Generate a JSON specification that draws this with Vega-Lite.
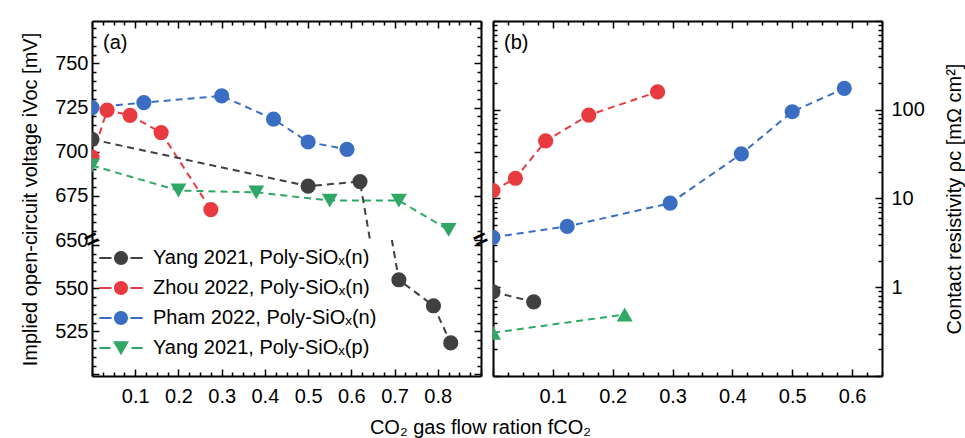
{
  "$schema": "https://vega.github.io/schema/vega-lite/v6.json",
  "padding": {"left": 20, "top": 20, "right": 2, "bottom": 2},
  "config": {
    "font": "Liberation Sans",
    "view": {"stroke": null},
    "axis": {
      "grid": false,
      "domain": true,
      "ticks": true,
      "domainColor": "#000000",
      "domainWidth": 2,
      "tickColor": "#000000",
      "tickWidth": 1.5,
      "labelFont": "Liberation Sans",
      "labelFontSize": 20,
      "labelColor": "#000000",
      "titleFont": "Liberation Sans",
      "titleFontSize": 20,
      "titleFontWeight": "normal",
      "titleColor": "#000000",
      "labelPadding": 11
    },
    "title": {"font": "Liberation Sans", "fontSize": 20, "fontWeight": "normal", "color": "#000000"}
  },
  "title": {"text": "CO₂ gas flow ration fCO₂", "orient": "bottom", "anchor": "middle", "offset": 12, "dx": -12},
  "datasets": {
    "voc": [
      {"series": "Pham 2022, Poly-SiOₓ(n)", "f": 0.0, "voc": 725.0},
      {"series": "Pham 2022, Poly-SiOₓ(n)", "f": 0.12, "voc": 727.8},
      {"series": "Pham 2022, Poly-SiOₓ(n)", "f": 0.3, "voc": 731.6},
      {"series": "Pham 2022, Poly-SiOₓ(n)", "f": 0.42, "voc": 718.4},
      {"series": "Pham 2022, Poly-SiOₓ(n)", "f": 0.5, "voc": 705.5},
      {"series": "Pham 2022, Poly-SiOₓ(n)", "f": 0.59, "voc": 701.3},
      {"series": "Zhou 2022, Poly-SiOₓ(n)", "f": 0.0, "voc": 697.0},
      {"series": "Zhou 2022, Poly-SiOₓ(n)", "f": 0.035, "voc": 723.5},
      {"series": "Zhou 2022, Poly-SiOₓ(n)", "f": 0.088, "voc": 720.6},
      {"series": "Zhou 2022, Poly-SiOₓ(n)", "f": 0.16, "voc": 710.8},
      {"series": "Zhou 2022, Poly-SiOₓ(n)", "f": 0.275, "voc": 667.2},
      {"series": "Yang 2021, Poly-SiOₓ(p)", "f": 0.0, "voc": 692.2},
      {"series": "Yang 2021, Poly-SiOₓ(p)", "f": 0.2, "voc": 678.0},
      {"series": "Yang 2021, Poly-SiOₓ(p)", "f": 0.38, "voc": 677.0},
      {"series": "Yang 2021, Poly-SiOₓ(p)", "f": 0.55, "voc": 672.3},
      {"series": "Yang 2021, Poly-SiOₓ(p)", "f": 0.71, "voc": 672.3},
      {"series": "Yang 2021, Poly-SiOₓ(p)", "f": 0.825, "voc": 655.7},
      {"series": "Yang 2021, Poly-SiOₓ(n)", "f": 0.0, "voc": 707.0},
      {"series": "Yang 2021, Poly-SiOₓ(n)", "f": 0.5, "voc": 680.5},
      {"series": "Yang 2021, Poly-SiOₓ(n)", "f": 0.62, "voc": 683.1},
      {"series": "Yang 2021, Poly-SiOₓ(n)", "f": 0.71, "voc": 554.9},
      {"series": "Yang 2021, Poly-SiOₓ(n)", "f": 0.79, "voc": 539.8},
      {"series": "Yang 2021, Poly-SiOₓ(n)", "f": 0.83, "voc": 518.2}
    ],
    "rho": [
      {"series": "Pham 2022, Poly-SiOₓ(n)", "f": 0.0, "rho": 3.65},
      {"series": "Pham 2022, Poly-SiOₓ(n)", "f": 0.124, "rho": 4.85},
      {"series": "Pham 2022, Poly-SiOₓ(n)", "f": 0.296, "rho": 8.85},
      {"series": "Pham 2022, Poly-SiOₓ(n)", "f": 0.415, "rho": 31.8},
      {"series": "Pham 2022, Poly-SiOₓ(n)", "f": 0.5, "rho": 95.0},
      {"series": "Pham 2022, Poly-SiOₓ(n)", "f": 0.587, "rho": 174.0},
      {"series": "Zhou 2022, Poly-SiOₓ(n)", "f": 0.0, "rho": 12.3},
      {"series": "Zhou 2022, Poly-SiOₓ(n)", "f": 0.0375, "rho": 16.9},
      {"series": "Zhou 2022, Poly-SiOₓ(n)", "f": 0.088, "rho": 44.5},
      {"series": "Zhou 2022, Poly-SiOₓ(n)", "f": 0.16, "rho": 87.0},
      {"series": "Zhou 2022, Poly-SiOₓ(n)", "f": 0.275, "rho": 159.0},
      {"series": "Yang 2021, Poly-SiOₓ(p)", "f": 0.0, "rho": 0.307},
      {"series": "Yang 2021, Poly-SiOₓ(p)", "f": 0.22, "rho": 0.493},
      {"series": "Yang 2021, Poly-SiOₓ(n)", "f": 0.0, "rho": 0.887},
      {"series": "Yang 2021, Poly-SiOₓ(n)", "f": 0.068, "rho": 0.684}
    ],
    "breaks": [
      {"f": 0.0},
      {"f": 0.9}
    ]
  },
  "resolve": {"scale": {"x": "independent", "y": "independent"}, "legend": {"color": "independent"}},
  "spacing": -1,
  "hconcat": [
    {
      "bounds": "flush",
      "spacing": 0,
      "resolve": {"scale": {"x": "independent", "y": "independent"}, "legend": {"color": "independent"}},
      "vconcat": [
        {
          "width": 389,
          "height": 219,
          "title": {"text": "(a)", "anchor": "start", "frame": "group", "offset": -33, "dx": 11},
          "data": {"name": "voc"},
          "resolve": {"axis": {"x": "independent", "y": "independent"}},
          "layer": [
            {
              "mark": {"type": "line", "strokeWidth": 2, "strokeDash": [7, 5], "clip": true},
              "encoding": {
                "x": {"field": "f", "type": "quantitative", "scale": {"domain": [0, 0.9], "nice": false, "zero": false},
                  "axis": {"orient": "top", "title": null, "labels": false,
                    "values": [0,0.025,0.05,0.075,0.1,0.125,0.15,0.175,0.2,0.225,0.25,0.275,0.3,0.325,0.35,0.375,0.4,0.425,0.45,0.475,0.5,0.525,0.55,0.575,0.6,0.625,0.65,0.675,0.7,0.725,0.75,0.775,0.8,0.825,0.85,0.875,0.9],
                    "tickSize": {"condition": {"test": "abs(datum.value*10 - round(datum.value*10)) < 1e-6", "value": -7}, "value": -4}}},
                "y": {"field": "voc", "type": "quantitative", "scale": {"domain": [650, 774], "nice": false, "zero": false},
                  "axis": {"orient": "left", "title": "Implied open-circuit voltage iVoc [mV]", "titleY": 178, "titlePadding": 14,
                    "values": [650,655,660,665,670,675,680,685,690,695,700,705,710,715,720,725,730,735,740,745,750,755,760,765,770],
                    "labelExpr": "datum.value % 25 === 0 ? datum.label : ''",
                    "tickSize": {"condition": {"test": "datum.value % 25 === 0", "value": -7}, "value": -4}}},
                "color": {"field": "series", "type": "nominal",
                  "scale": {"domain": ["Yang 2021, Poly-SiOₓ(n)", "Zhou 2022, Poly-SiOₓ(n)", "Pham 2022, Poly-SiOₓ(n)", "Yang 2021, Poly-SiOₓ(p)"], "range": ["#404040", "#e83a3f", "#3a6ec3", "#2fa866"]},
                  "legend": null}
              }
            },
            {
              "mark": {"type": "point", "filled": true, "opacity": 1, "clip": true},
              "encoding": {
                "x": {"field": "f", "type": "quantitative", "axis": null},
                "y": {"field": "voc", "type": "quantitative",
                  "axis": {"orient": "right", "title": null, "labels": false,
                    "values": [650,655,660,665,670,675,680,685,690,695,700,705,710,715,720,725,730,735,740,745,750,755,760,765,770],
                    "tickSize": {"condition": {"test": "datum.value % 25 === 0", "value": -7}, "value": -4}}},
                "color": {"field": "series", "type": "nominal", "legend": null},
                "shape": {"condition": {"test": "indexof(datum.series, '(p)') >= 0", "value": "triangle-down"}, "value": "circle"},
                "size": {"condition": {"test": "indexof(datum.series, '(p)') >= 0", "value": 256}, "value": 230}
              }
            }
          ]
        },
        {
          "width": 389,
          "height": 136,
          "data": {"name": "voc"},
          "resolve": {"axis": {"x": "independent", "y": "independent"}, "legend": {"color": "independent"}},
          "layer": [
            {
              "mark": {"type": "line", "strokeWidth": 2, "strokeDash": [7, 5], "clip": true},
              "encoding": {
                "x": {"field": "f", "type": "quantitative", "scale": {"domain": [0, 0.9], "nice": false, "zero": false},
                  "axis": {"orient": "bottom", "title": null, "format": ".1f", "labelPadding": 17,
                    "values": [0,0.025,0.05,0.075,0.1,0.125,0.15,0.175,0.2,0.225,0.25,0.275,0.3,0.325,0.35,0.375,0.4,0.425,0.45,0.475,0.5,0.525,0.55,0.575,0.6,0.625,0.65,0.675,0.7,0.725,0.75,0.775,0.8,0.825,0.85,0.875,0.9],
                    "labelExpr": "abs(datum.value*10 - round(datum.value*10)) < 1e-6 && datum.value > 0.05 && datum.value < 0.85 ? datum.label : ''",
                    "tickSize": {"condition": {"test": "abs(datum.value*10 - round(datum.value*10)) < 1e-6", "value": -7}, "value": -4}}},
                "y": {"field": "voc", "type": "quantitative", "scale": {"domain": [499, 578], "nice": false, "zero": false},
                  "axis": {"orient": "left", "title": null,
                    "values": [500,505,510,515,520,525,530,535,540,545,550,555,560,565,570,575],
                    "labelExpr": "datum.value === 525 || datum.value === 550 ? datum.label : ''",
                    "tickSize": {"condition": {"test": "datum.value % 25 === 0", "value": -7}, "value": -4}}},
                "color": {"field": "series", "type": "nominal",
                  "scale": {"domain": ["Yang 2021, Poly-SiOₓ(n)", "Zhou 2022, Poly-SiOₓ(n)", "Pham 2022, Poly-SiOₓ(n)", "Yang 2021, Poly-SiOₓ(p)"], "range": ["#404040", "#e83a3f", "#3a6ec3", "#2fa866"]},
                  "legend": null}
              }
            },
            {
              "mark": {"type": "point", "filled": true, "opacity": 1, "clip": true},
              "encoding": {
                "x": {"field": "f", "type": "quantitative", "axis": null},
                "y": {"field": "voc", "type": "quantitative",
                  "axis": {"orient": "right", "title": null, "labels": false,
                    "values": [500,505,510,515,520,525,530,535,540,545,550,555,560,565,570,575],
                    "tickSize": {"condition": {"test": "datum.value % 25 === 0", "value": -7}, "value": -4}}},
                "color": {"field": "series", "type": "nominal", "title": null,
                  "legend": {
                    "orient": "none", "legendX": 19, "legendY": 8, "padding": 0,
                    "symbolSize": 196, "symbolOpacity": 1, "symbolStrokeWidth": 0,
                    "labelFontSize": 20, "labelFont": "Liberation Sans", "labelColor": "#000000", "labelOffset": 22, "labelLimit": 400,
                    "rowPadding": 10,
                    "encode": {"symbols": {"update": {
                      "shape": {"signal": "indexof(datum.value, '(p)') >= 0 ? 'M-3.1,-0.15L-1.5,-0.15L-1.5,0.15L-3.1,0.15Z M1.5,-0.15L3.1,-0.15L3.1,0.15L1.5,0.15Z M-1.15,-0.95L1.15,-0.95L0,1.05Z' : 'M-3.1,-0.15L-1.35,-0.15L-1.35,0.15L-3.1,0.15Z M1.35,-0.15L3.1,-0.15L3.1,0.15L1.35,0.15Z M-1,0A1,1 0 1,0 1,0A1,1 0 1,0 -1,0Z'"},
                      "fill": {"scale": "color", "field": "value"},
                      "opacity": {"value": 1}
                    }}}
                  }},
                "shape": {"condition": {"test": "indexof(datum.series, '(p)') >= 0", "value": "triangle-down"}, "value": "circle"},
                "size": {"condition": {"test": "indexof(datum.series, '(p)') >= 0", "value": 256}, "value": 230}
              }
            },
            {
              "data": {"name": "breaks"},
              "mark": {"type": "text", "text": "=", "fontSize": 24, "fontWeight": "bold", "angle": -25, "color": "#000000", "baseline": "middle", "align": "center", "clip": false},
              "encoding": {
                "x": {"field": "f", "type": "quantitative", "axis": null},
                "y": {"datum": 578, "type": "quantitative", "axis": null}
              }
            }
          ]
        }
      ]
    },
    {
      "width": 389,
      "height": 355,
      "title": {"text": "(b)", "anchor": "start", "frame": "group", "offset": -33, "dx": 11},
      "data": {"name": "rho"},
      "resolve": {"axis": {"x": "independent", "y": "independent"}},
      "layer": [
        {
          "mark": {"type": "line", "strokeWidth": 2, "strokeDash": [7, 5], "clip": true},
          "encoding": {
            "x": {"field": "f", "type": "quantitative", "scale": {"domain": [0, 0.65], "nice": false, "zero": false},
              "axis": {"orient": "bottom", "title": null, "format": ".1f", "labelPadding": 17,
                "values": [0,0.025,0.05,0.075,0.1,0.125,0.15,0.175,0.2,0.225,0.25,0.275,0.3,0.325,0.35,0.375,0.4,0.425,0.45,0.475,0.5,0.525,0.55,0.575,0.6,0.625,0.65],
                "labelExpr": "abs(datum.value*10 - round(datum.value*10)) < 1e-6 && datum.value > 0.05 ? datum.label : ''",
                "tickSize": {"condition": {"test": "abs(datum.value*10 - round(datum.value*10)) < 1e-6", "value": -7}, "value": -4}}},
            "y": {"field": "rho", "type": "quantitative", "scale": {"type": "log", "domain": [0.1, 1000], "nice": false},
              "axis": {"orient": "right", "title": "Contact resistivity ρc [mΩ cm²]", "titleAngle": -90, "titlePadding": 40, "format": "~g", "labelPadding": 16,
                "values": [0.1,0.2,0.3,0.4,0.5,0.6,0.7,0.8,0.9,1,2,3,4,5,6,7,8,9,10,20,30,40,50,60,70,80,90,100,200,300,400,500,600,700,800,900,1000],
                "labelExpr": "datum.value === 1 || datum.value === 10 || datum.value === 100 ? datum.label : ''",
                "tickSize": {"condition": {"test": "abs(log(datum.value)/LN10 - round(log(datum.value)/LN10)) < 1e-6", "value": -7}, "value": -4}}},
            "color": {"field": "series", "type": "nominal",
              "scale": {"domain": ["Yang 2021, Poly-SiOₓ(n)", "Zhou 2022, Poly-SiOₓ(n)", "Pham 2022, Poly-SiOₓ(n)", "Yang 2021, Poly-SiOₓ(p)"], "range": ["#404040", "#e83a3f", "#3a6ec3", "#2fa866"]},
              "legend": null}
          }
        },
        {
          "mark": {"type": "point", "filled": true, "opacity": 1, "clip": true},
          "encoding": {
            "x": {"field": "f", "type": "quantitative",
              "axis": {"orient": "top", "title": null, "labels": false,
                "values": [0,0.025,0.05,0.075,0.1,0.125,0.15,0.175,0.2,0.225,0.25,0.275,0.3,0.325,0.35,0.375,0.4,0.425,0.45,0.475,0.5,0.525,0.55,0.575,0.6,0.625,0.65],
                "tickSize": {"condition": {"test": "abs(datum.value*10 - round(datum.value*10)) < 1e-6", "value": -7}, "value": -4}}},
            "y": {"field": "rho", "type": "quantitative",
              "axis": {"orient": "left", "title": null, "labels": false,
                "values": [0.1,0.2,0.3,0.4,0.5,0.6,0.7,0.8,0.9,1,2,3,4,5,6,7,8,9,10,20,30,40,50,60,70,80,90,100,200,300,400,500,600,700,800,900,1000],
                "tickSize": {"condition": {"test": "abs(log(datum.value)/LN10 - round(log(datum.value)/LN10)) < 1e-6", "value": -7}, "value": -4}}},
            "color": {"field": "series", "type": "nominal", "legend": null},
            "shape": {"condition": {"test": "indexof(datum.series, '(p)') >= 0", "value": "triangle-up"}, "value": "circle"},
            "size": {"condition": {"test": "indexof(datum.series, '(p)') >= 0", "value": 256}, "value": 230}
          }
        }
      ]
    }
  ]
}
